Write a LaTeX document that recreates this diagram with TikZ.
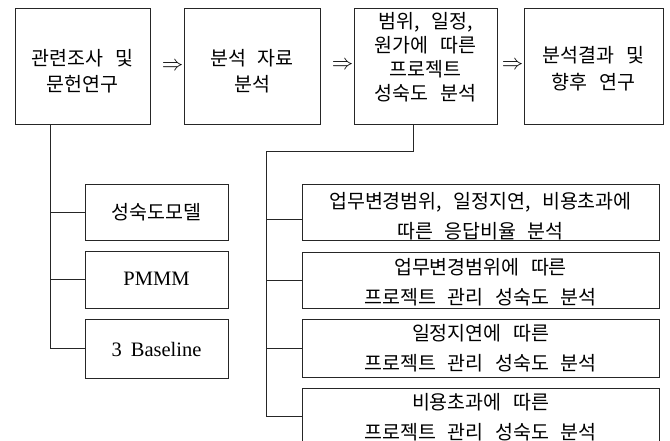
\documentclass[tikz,border=0pt]{standalone}
\usepackage{fontspec}
\setmainfont{Liberation Serif}
\newfontfamily\kr[WordSpace=2.6]{Noto Sans CJK KR}
\tikzset{
  box/.style={draw=black!85, line width=0.9pt, inner sep=0pt, minimum width=#1},
  lbl/.style={inner sep=0pt, align=center},
  conn/.style={draw=black!85, line width=0.9pt},
  arr/.style={inner sep=0pt}
}
\begin{document}
\begin{tikzpicture}[x=1pt,y=-1pt]
\useasboundingbox (0,0) rectangle (670,441);
\clip (0,0) rectangle (670,441);
% top row boxes
\node[box=135pt, minimum height=116pt] (b1) at (82.5,66) {};
\node[box=136pt, minimum height=116pt] (b2) at (252,66) {};
\node[box=143pt, minimum height=116pt] (b3) at (425.5,66) {};
\node[box=139pt, minimum height=116pt] (b4) at (593.5,66) {};
\node[lbl, font=\kr\fontsize{19.5}{26}\selectfont] (t1) at (82.5,71) {관련조사 및\\문헌연구};
\node[lbl, font=\kr\fontsize{19.5}{26}\selectfont] (t2) at (252,71) {분석 자료\\분석};
\node[lbl, font=\kr\fontsize{19.5}{24}\selectfont] (t3) at (425.5,57) {범위, 일정,\\원가에 따른\\프로젝트\\성숙도 분석};
\node[lbl, font=\kr\fontsize{19.5}{27}\selectfont] (t4) at (593.5,69) {분석결과 및\\향후 연구};
% arrows
\node[arr] (a1) at (172.5,67) {\scalebox{2.15}{$\Rightarrow$}};
\node[arr] (a2) at (342.5,66) {\scalebox{2.15}{$\Rightarrow$}};
\node[arr] (a3) at (512.5,66) {\scalebox{2.15}{$\Rightarrow$}};
% left boxes
\node[box=143pt, minimum height=56pt] (l1) at (156.5,212) {};
\node[box=143pt, minimum height=57pt] (l2) at (156.5,279.5) {};
\node[box=143pt, minimum height=59pt] (l3) at (156.5,348.5) {};
\node[lbl, font=\kr\fontsize{19.5}{19.5}\selectfont] (tl1) at (156.5,212) {성숙도모델};
\node[lbl, font=\fontsize{20.5}{20.5}\selectfont] (tl2) at (156.5,279) {PMMM};
\node[lbl, font=\fontsize{20.5}{20.5}\selectfont] (tl3) at (156.5,349) {3\hspace{9pt}Baseline};
% right boxes
\node[box=357pt, minimum height=56pt] (r1) at (480.5,212) {};
\node[box=357pt, minimum height=56pt] (r2) at (480.5,280) {};
\node[box=357pt, minimum height=58pt] (r3) at (480.5,348) {};
\node[box=357pt, minimum height=56pt] (r4) at (480.5,416) {};
\node[lbl, font=\kr\fontsize{19.5}{30}\selectfont] (tr1) at (480.5,216) {업무변경범위, 일정지연, 비용초과에\\따른 응답비율 분석};
\node[lbl, font=\kr\fontsize{19.5}{30}\selectfont] (tr2) at (480.5,282) {업무변경범위에 따른\\프로젝트 관리 성숙도 분석};
\node[lbl, font=\kr\fontsize{19.5}{30}\selectfont] (tr3) at (480.5,348) {일정지연에 따른\\프로젝트 관리 성숙도 분석};
\node[lbl, font=\kr\fontsize{19.5}{30}\selectfont] (tr4) at (480.5,417.5) {비용초과에 따른\\프로젝트 관리 성숙도 분석};
% connectors left
\coordinate (jl) at ([xshift=-32.5pt]b1.south);
\draw[conn] (jl) |- (l3.west);
\draw[conn] (l1.west -| jl) -- (l1.west);
\draw[conn] (l2.west -| jl) -- (l2.west);
% connectors right
\coordinate (jr) at (266,151);
\coordinate (jrb) at (266,416);
\draw[conn] ([xshift=-12.5pt]b3.south) |- (jr) -- (jrb) -- (r4.west);
\draw[conn] ([yshift=-7pt]r1.west -| jr) -- ([yshift=-7pt]r1.west);
\draw[conn] (r2.west -| jr) -- (r2.west);
\draw[conn] (r3.west -| jr) -- (r3.west);
\end{tikzpicture}
\end{document}
